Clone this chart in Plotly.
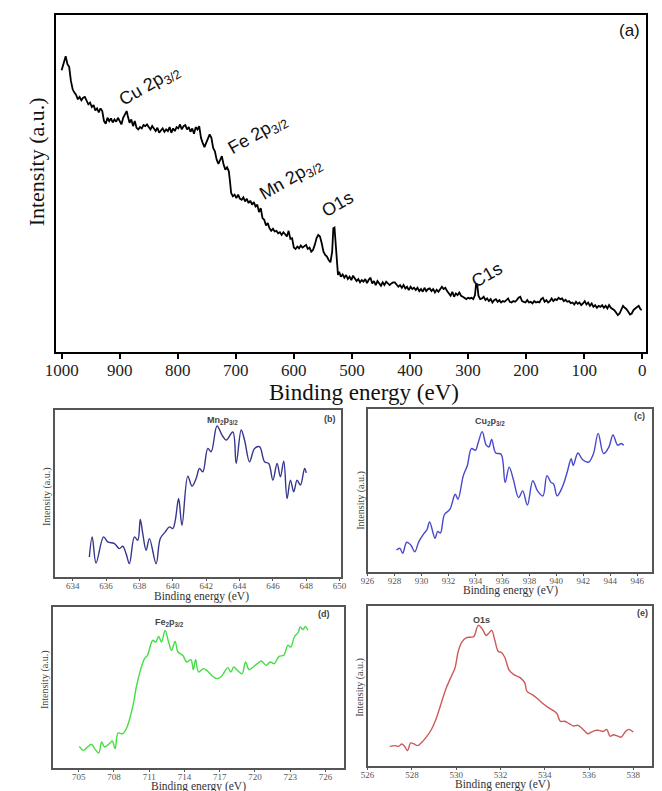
import plotly.graph_objects as go

W, H = 662, 791

# ---------------- Data ----------------
survey_energy = [1000,996,993,990,987,984,981,978,975,972,969,966,963,960,957,954,951,948,945,942,939,936,933,930,927,924,921,918,915,912,909,906,903,900,897,894,891,888,886,883,880,877,874,871,868,865,862,859,856,853,850,847,844,841,838,835,832,829,826,823,820,817,814,811,808,805,802,799,796,793,790,787,784,781,778,775,772,769,766,763,760,757,754,751,748,745,742,739,736,733,730,727,724,721,718,715,712,710,708,705,702,699,696,693,690,687,684,681,678,675,672,669,666,663,660,657,654,651,648,645,642,639,636,633,630,627,624,621,618,615,612,609,606,603,600,597,594,591,588,585,582,579,576,573,570,567,564,561,558,555,552,549,546,543,540,537,534,532,530,528,526,524,522,519,516,513,510,507,504,501,498,495,492,489,486,483,480,477,474,471,468,465,462,459,456,453,450,447,444,441,438,435,432,429,426,423,420,417,414,411,408,405,402,399,396,393,390,387,384,381,378,375,372,369,366,363,360,357,354,351,348,345,342,339,336,333,330,327,324,321,318,315,312,309,306,303,300,297,294,291,288,286,284,282,279,276,273,270,267,264,261,258,255,252,249,246,243,240,237,234,231,228,225,222,219,216,213,210,207,204,201,198,195,192,189,186,183,180,177,174,171,168,165,162,159,156,153,150,147,144,141,138,135,132,129,126,123,120,117,114,111,108,105,102,99,96,93,90,87,84,81,78,75,72,69,66,63,60,57,54,51,48,45,42,39,36,33,30,27,24,21,18,15,12,9,6,3,1]
survey_intensity = [842,870,884,860,852,810,785,775,768,755,762,752,760,762,750,740,745,732,738,722,728,716,728,720,690,682,700,690,698,686,695,688,700,692,680,700,708,720,705,685,695,675,690,670,665,672,668,678,675,680,672,665,675,668,660,670,655,662,668,658,665,660,672,655,668,660,672,668,680,665,675,678,665,672,658,668,652,672,665,675,640,625,612,625,640,650,640,610,600,575,562,575,585,560,545,552,540,510,475,465,470,460,470,458,455,462,450,458,445,452,440,448,435,440,418,430,400,395,378,385,370,362,368,360,362,355,358,350,358,352,345,362,338,340,312,308,315,310,318,312,315,320,308,312,300,305,320,340,350,345,325,300,290,285,275,268,300,370,372,320,260,230,240,225,232,222,230,218,225,215,228,220,212,218,208,215,210,218,206,216,222,205,212,200,212,205,198,208,200,210,206,200,205,208,208,200,195,200,192,200,190,195,185,195,188,192,185,192,182,188,180,192,182,188,190,182,188,178,186,180,188,195,188,192,182,175,168,180,165,175,170,178,168,165,160,158,162,160,162,158,170,205,200,168,158,160,165,155,160,152,158,148,155,158,150,155,148,152,150,155,160,150,148,152,150,155,162,165,152,150,148,155,148,150,145,152,148,150,148,158,162,150,155,148,152,160,152,158,155,162,158,160,152,156,150,152,146,148,142,150,144,148,140,145,152,142,148,138,145,135,140,132,138,135,140,132,138,130,140,132,128,125,118,110,115,125,138,132,128,120,112,115,125,130,135,138,128,125]

mn_energy = [635.0,635.17,635.4,635.85,636.1,636.5,636.8,637.0,637.2,637.4,637.7,637.9,638.05,638.2,638.4,638.6,639.0,639.25,639.55,639.8,640.0,640.15,640.35,640.55,640.9,641.15,641.4,641.6,641.8,642.1,642.3,642.65,642.95,643.2,643.6,643.8,644.1,644.3,644.6,644.9,645.2,645.5,645.75,646.0,646.25,646.45,646.65,646.85,647.05,647.25,647.45,647.65,647.9,648.0]
mn_intensity = [60,120,42,120,105,100,85,92,70,40,120,110,172,130,80,115,40,115,135,150,145,170,235,155,302,272,295,325,315,385,375,452,425,410,434,340,440,410,345,385,390,345,340,290,340,300,347,235,290,255,290,275,325,312]

cu_energy = [928.14,928.4,928.6,928.9,929.2,929.5,929.8,930.2,930.4,930.6,931.0,931.2,931.4,931.7,932.1,932.5,932.7,933.1,933.4,933.7,934.0,934.2,934.5,934.8,935.0,935.2,935.5,935.9,936.2,936.5,936.8,937.2,937.5,937.85,938.25,938.6,939.0,939.3,939.6,939.8,940.05,940.45,940.8,941.1,941.25,941.6,941.95,942.4,942.75,943.1,943.5,943.9,944.2,944.55,944.8,945.0]
cu_intensity = [65,70,55,88,80,60,90,115,125,148,100,120,115,170,185,230,215,285,315,365,360,382,415,375,370,392,352,348,265,310,275,220,240,198,270,240,225,285,265,260,225,252,295,335,315,352,332,325,350,410,350,370,405,375,380,375]

fe_energy = [705.05,705.4,705.75,706.1,706.35,706.7,706.95,707.2,707.6,707.85,708.1,708.35,708.75,709.05,709.3,709.65,709.9,710.25,710.6,710.85,711.15,711.3,711.55,711.8,712.05,712.35,712.65,712.9,713.2,713.45,713.85,714.2,714.55,714.75,714.95,715.2,715.6,715.9,716.3,716.75,717.15,717.4,717.7,717.95,718.2,718.5,718.9,719.2,719.5,719.85,720.2,720.55,720.95,721.3,721.65,722.05,722.45,722.8,723.05,723.35,723.7,723.85,724.1,724.3,724.5]
fe_intensity = [65,53,63,71,58,45,78,63,73,81,58,105,103,118,143,193,243,293,328,338,373,383,378,395,378,413,378,353,380,348,338,318,325,295,325,288,298,293,278,268,275,288,301,288,303,293,283,318,295,303,313,321,308,318,313,335,338,368,363,393,408,423,415,425,413]

o_energy = [527.0,527.25,527.4,527.55,527.7,527.8,527.95,528.1,528.25,528.45,528.65,528.9,529.1,529.3,529.55,529.75,529.95,530.1,530.25,530.45,530.65,530.8,531.0,531.2,531.35,531.45,531.6,531.75,531.9,532.05,532.2,532.4,532.65,532.9,533.1,533.2,533.45,533.65,533.9,534.1,534.35,534.55,534.7,534.9,535.1,535.3,535.5,535.7,535.95,536.1,536.3,536.45,536.65,536.8,536.95,537.1,537.3,537.45,537.65,537.8,538.0]
o_intensity = [58,60,58,65,55,45,68,65,60,70,85,110,140,180,230,260,290,340,365,378,380,382,415,402,385,390,400,370,338,335,320,282,268,260,245,220,210,200,185,175,165,155,132,132,125,118,120,110,95,100,105,105,102,108,88,92,88,85,102,108,100]

survey_ticks = [1000, 900, 800, 700, 600, 500, 400, 300, 200, 100, 0]
mn_ticks = [634, 636, 638, 640, 642, 644, 646, 648, 650]
cu_ticks = [926, 928, 930, 932, 934, 936, 938, 940, 942, 944, 946]
fe_ticks = [705, 708, 711, 714, 717, 720, 723, 726]
o_ticks = [526, 528, 530, 532, 534, 536, 538]

survey_labels = [("Cu 2p<sub>3/2</sub>", 848, 795), ("Fe 2p<sub>3/2</sub>", 661, 650),
                 ("Mn 2p<sub>3/2</sub>", 605, 516), ("O1s", 525, 442), ("C1s", 268, 230)]

# ---------------- Figure ----------------
SERIF = "Liberation Serif"
SANS = "Liberation Sans"

def px_x(a, b):
    return [a / W, b / W]

def px_y(top, bottom):
    return [1 - bottom / H, 1 - top / H]

fig = go.Figure()

fig.add_trace(go.Scatter(x=survey_energy, y=survey_intensity, mode="lines",
                         line=dict(color="black", width=1.8), xaxis="x", yaxis="y"))
fig.add_trace(go.Scatter(x=mn_energy, y=mn_intensity, mode="lines", line_shape="spline",
                         line=dict(color="#36368f", width=1.4), xaxis="x2", yaxis="y2"))
fig.add_trace(go.Scatter(x=cu_energy, y=cu_intensity, mode="lines", line_shape="spline",
                         line=dict(color="#4848cc", width=1.4), xaxis="x3", yaxis="y3"))
fig.add_trace(go.Scatter(x=fe_energy, y=fe_intensity, mode="lines", line_shape="spline",
                         line=dict(color="#44dd44", width=1.4), xaxis="x4", yaxis="y4"))
fig.add_trace(go.Scatter(x=o_energy, y=o_intensity, mode="lines", line_shape="spline",
                         line=dict(color="#cf5858", width=1.4), xaxis="x5", yaxis="y5"))

main_x = dict(domain=px_x(46, 652), range=[1010, -7], tickvals=survey_ticks,
              ticks="outside", ticklen=5, tickwidth=1.5, tickcolor="black",
              showline=True, linecolor="black", linewidth=1.8, mirror=True,
              showgrid=False, zeroline=False, ticklabelstandoff=-3,
              tickfont=dict(family=SERIF, size=17, color="#222"), anchor="y")
main_y = dict(domain=px_y(15, 352), range=[0, 1007], showticklabels=False, ticks="",
              showline=True, linecolor="black", linewidth=1.8, mirror=True,
              showgrid=False, zeroline=False, anchor="x")

def sub_x(dom, rng, ticks, anchor):
    return dict(domain=dom, range=rng, tickvals=ticks, ticks="outside", ticklen=2,
                tickwidth=1, tickcolor="#555", showline=True, linecolor="#555",
                linewidth=1.5, mirror=True, showgrid=False, zeroline=False,
                ticklabelstandoff=-3,
                tickfont=dict(family=SERIF, size=9, color="#555"), anchor=anchor)

def sub_y(dom, rng, anchor):
    return dict(domain=dom, range=rng, showticklabels=False, ticks="", showline=True,
                linecolor="#555", linewidth=1.5, mirror=True, showgrid=False,
                zeroline=False, anchor=anchor)

fig.update_layout(
    width=W, height=H, margin=dict(l=0, r=0, t=0, b=0),
    paper_bgcolor="white", plot_bgcolor="white", showlegend=False,
    xaxis=main_x, yaxis=main_y,
    xaxis2=sub_x(px_x(45, 339), [632.93, 650.1], mn_ticks, "y2"),
    yaxis2=sub_y(px_y(410, 577), [0, 500], "x2"),
    xaxis3=sub_x(px_x(366, 658), [926, 947.1], cu_ticks, "y3"),
    yaxis3=sub_y(px_y(409, 572), [0, 482], "x3"),
    xaxis4=sub_x(px_x(43, 342), [702.8, 727.6], fe_ticks, "y4"),
    yaxis4=sub_y(px_y(607, 768), [0, 483], "x4"),
    xaxis5=sub_x(px_x(366, 658), [526, 538.85], o_ticks, "y5"),
    yaxis5=sub_y(px_y(606, 766), [0, 472], "x5"),
)

C = dict(xanchor="center", yanchor="middle", showarrow=False)
ann = []
# main peak labels
for txt, e, i in survey_labels:
    ann.append(dict(x=e, y=i, xref="x", yref="y", text=txt, textangle=-30,
                    font=dict(family=SANS, size=18, color="#111"), **C))
ann.append(dict(x=22, y=962, xref="x", yref="y", text="(a)",
                font=dict(family=SANS, size=17, color="#111"), **C))

# sub-panel labels
sub_labels = [
    ("x2", "y2", "Mn<sub>2</sub>p<sub>3/2</sub>", 643.0, 470, "(b)", 649.4, 472),
    ("x3", "y3", "Cu<sub>2</sub>p<sub>3/2</sub>", 935.05, 445, "(c)", 946.2, 460),
    ("x4", "y4", "Fe<sub>2</sub>p<sub>3/2</sub>", 712.7, 436, "(d)", 725.9, 461),
    ("x5", "y5", "O1s", 531.15, 432, "(e)", 538.4, 450),
]
for xr, yr, txt, e, i, tag, te, ti in sub_labels:
    ann.append(dict(x=e, y=i, xref=xr, yref=yr, text="<b>" + txt + "</b>",
                    font=dict(family=SANS, size=9, color="#444"), **C))
    ann.append(dict(x=te, y=ti, xref=xr, yref=yr, text="<b>" + tag + "</b>",
                    font=dict(family=SANS, size=9, color="#444"), **C))

# axis titles
ann.append(dict(x=362 / W, y=1 - 392 / H, xref="paper", yref="paper",
                text="Binding energy (eV)",
                font=dict(family=SERIF, size=23, color="#111"), **C))
ann.append(dict(x=26 / W, y=1 - 162 / H, xref="paper", yref="paper",
                text="Intensity (a.u.)", textangle=-90,
                font=dict(family=SERIF, size=22, color="#111"), **C))

sub_titles = [(196, 596, 37, 497), (513, 590, 359, 500), (192, 786, 35, 680), (504, 784, 358, 687)]
for xt, yt, xy, yy in sub_titles:
    ann.append(dict(x=xt / W, y=1 - yt / H, xref="paper", yref="paper",
                    text="Binding energy (eV)",
                    font=dict(family=SERIF, size=11.5, color="#333"), **C))
    ann.append(dict(x=xy / W, y=1 - yy / H, xref="paper", yref="paper",
                    text="Intensity (a.u.)", textangle=-90,
                    font=dict(family=SERIF, size=10, color="#444"), **C))

fig.update_layout(annotations=ann)
fig.write_html("out.html")
